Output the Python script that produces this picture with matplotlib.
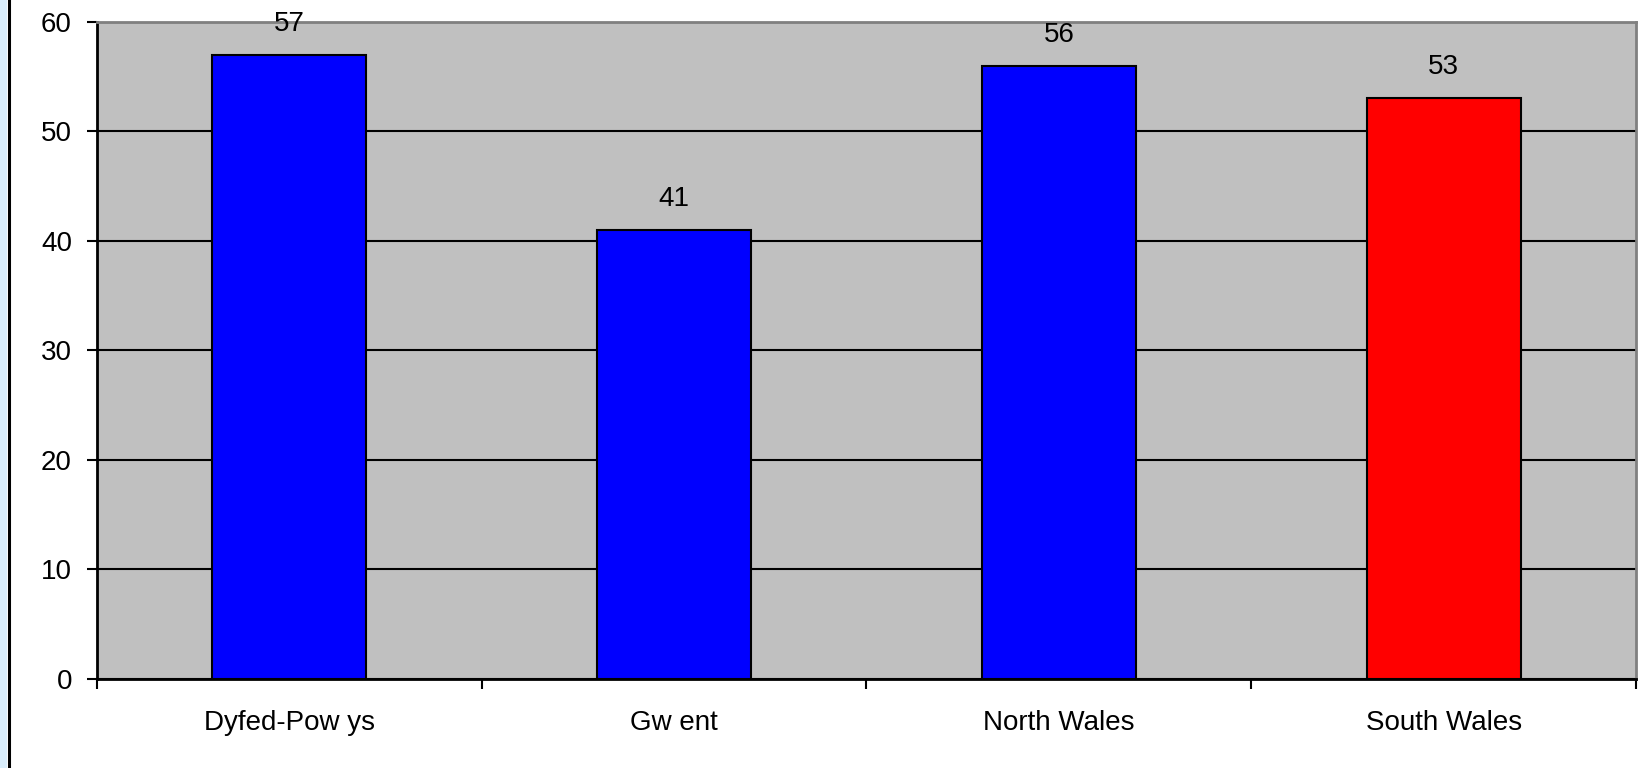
import matplotlib
matplotlib.use("Agg")
import matplotlib.pyplot as plt
from matplotlib.patches import Rectangle
from matplotlib.lines import Line2D

categories = ["Dyfed-Pow ys", "Gw ent", "North Wales", "South Wales"]
values = [57, 41, 56, 53]
colors = ["#0000ff", "#0000ff", "#0000ff", "#ff0000"]
yticks = [0, 10, 20, 30, 40, 50, 60]

plt.rcParams['font.family'] = ['Liberation Sans', 'DejaVu Sans']

W, H = 1648, 768
fig = plt.figure(figsize=(W / 100, H / 100), dpi=100)
fig.patch.set_facecolor("white")

# left decorative strip
fig.add_artist(Rectangle((0, 0), 7 / W, 1, transform=fig.transFigure,
                         facecolor="#d9edfb", edgecolor="none"))
fig.add_artist(Line2D([8.5 / W, 8.5 / W], [0, 1], transform=fig.transFigure,
                      color="black", linewidth=2.2))

ax = fig.add_axes([97 / W, 1 - 679 / H, (1636 - 97) / W, (679 - 21.7) / H])
ax.set_facecolor("#c0c0c0")

x = list(range(len(categories)))
ax.bar(x, values, width=0.4, color=colors, edgecolor="black", linewidth=1.5, zorder=3)

ax.set_xlim(-0.5, len(categories) - 0.5)
ax.set_ylim(0, 60)
ax.set_yticks(yticks)
ax.set_yticklabels([str(v) for v in yticks])
ax.yaxis.grid(True, color="black", linewidth=1.5, zorder=1)
ax.set_axisbelow(True)

FS = 20
ax.set_xticks(x)
ax.set_xticklabels(categories)
ax.set_xticks([i - 0.5 for i in range(len(categories) + 1)], minor=True)
ax.tick_params(axis="x", which="major", length=0, pad=22.5, labelsize=FS)
ax.tick_params(axis="x", which="minor", length=7, width=1.5, direction="out", color="black")
ax.tick_params(axis="y", length=7, width=1.5, direction="out", pad=11, labelsize=FS)

for side in ["top", "right"]:
    ax.spines[side].set_color("#808080")
    ax.spines[side].set_linewidth(2)
for side in ["left", "bottom"]:
    ax.spines[side].set_color("black")
    ax.spines[side].set_linewidth(2)

for xi, v in zip(x, values):
    ax.annotate(str(v), (xi, v), xytext=(0, 24), textcoords="offset pixels",
                ha="center", va="baseline", fontsize=FS, color="black",
                annotation_clip=False)

fig.savefig("out.png", dpi=100)
